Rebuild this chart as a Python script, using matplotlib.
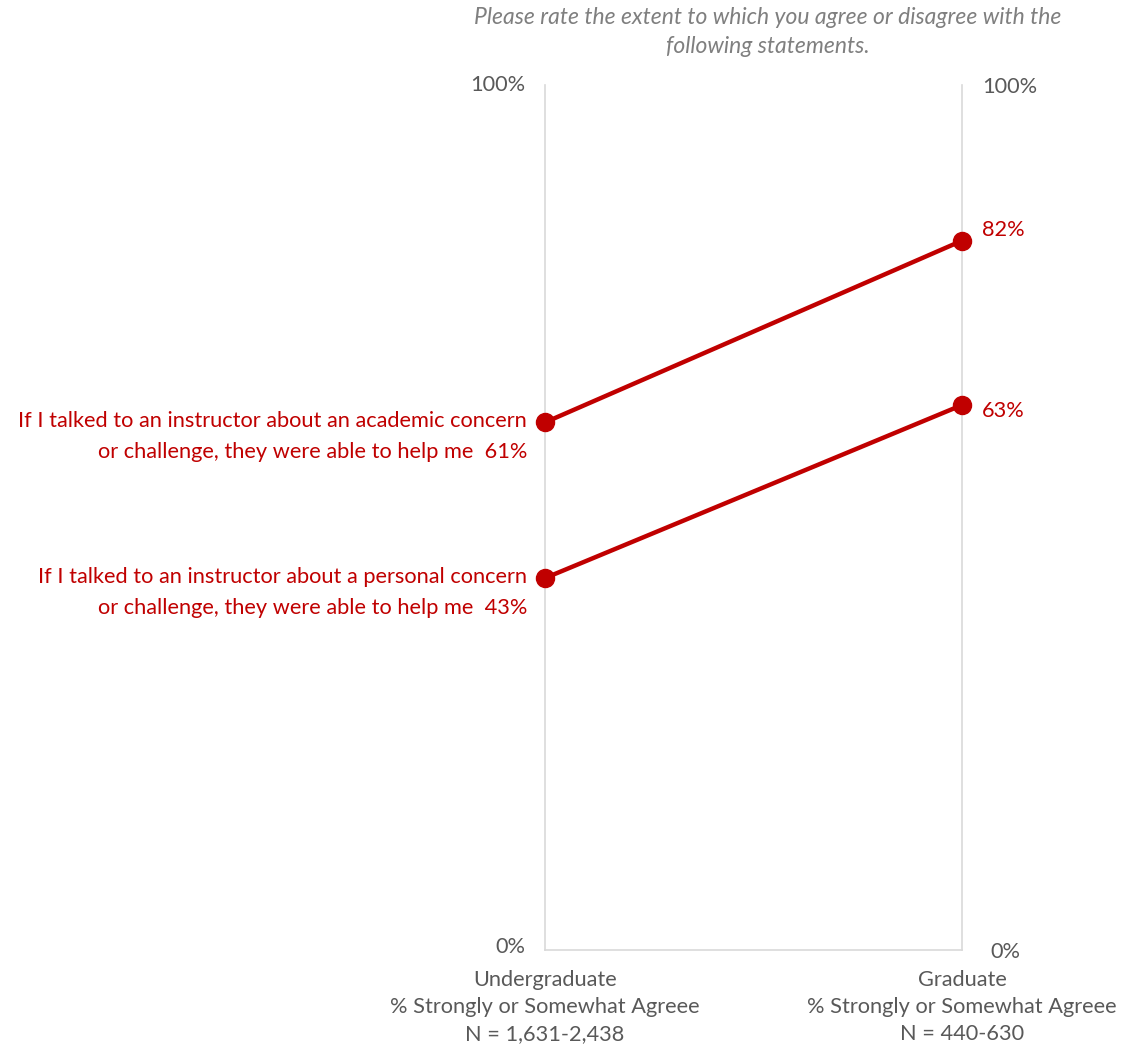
import matplotlib.pyplot as plt
from matplotlib.transforms import offset_copy

plt.rcParams['font.family'] = ['Lato', 'DejaVu Sans']

groups = ["Undergraduate\n% Strongly or Somewhat Agreee\nN = 1,631-2,438",
          "Graduate\n% Strongly or Somewhat Agreee\nN = 440-630"]
statements = ["If I talked to an instructor about an academic concern\nor challenge, they were able to help me",
              "If I talked to an instructor about a personal concern\nor challenge, they were able to help me"]
undergrad = [61, 43]
graduate = [82, 63]
title = "Please rate the extent to which you agree or disagree with the\nfollowing statements."

red = "#C00000"
gray = "#595959"
fs = 15.7

fig = plt.figure(figsize=(11.36, 10.46), dpi=100)
ax = fig.add_axes([0.4798, 0.0918, 0.367, 0.8269])
ax.set_xlim(0, 1)
ax.set_ylim(0, 100)
ax.axis("off")

# vertical axes and bottom line
for x in [0, 1]:
    ax.plot([x, x], [0, 100], color="#d9d9d9", lw=1.2, zorder=1, clip_on=False)
ax.plot([0, 1], [0, 0], color="#d9d9d9", lw=1.2, zorder=1, clip_on=False)

for i, s in enumerate(statements):
    ax.plot([0, 1], [undergrad[i], graduate[i]], color=red, lw=3.2, marker="o",
            markersize=13, zorder=3, clip_on=False)
    lines = s.split("\n")
    tr = offset_copy(ax.transData, fig=fig, x=-18, y=1, units="dots")
    ax.text(0, undergrad[i], lines[0], transform=tr, ha="right", va="center",
            color=red, fontsize=fs)
    tr2 = offset_copy(ax.transData, fig=fig, x=-18, y=-30, units="dots")
    ax.text(0, undergrad[i], lines[1] + "  " + f"{undergrad[i]}%", transform=tr2,
            ha="right", va="center", color=red, fontsize=fs)

# graduate value labels
offsets = [11, -6]
for i in range(len(statements)):
    tr = offset_copy(ax.transData, fig=fig, x=20, y=offsets[i], units="dots")
    ax.text(1, graduate[i], f"{graduate[i]}%", transform=tr, ha="left", va="center",
            color=red, fontsize=fs)

# axis end labels
for x, dx, ha, dy0, dy100 in [(0, -20, "right", 3, 0), (1, 20, "left", -2, -2)]:
    tr = offset_copy(ax.transData, fig=fig, x=dx, y=dy100, units="dots")
    ax.text(x, 100, "100%", transform=tr, ha=ha, va="center", color=gray, fontsize=fs)
    tr = offset_copy(ax.transData, fig=fig, x=dx + (8 if x == 1 else 0), y=dy0, units="dots")
    ax.text(x, 0, "0%", transform=tr, ha=ha, va="center", color=gray, fontsize=fs)

for x, g in zip([0, 1], groups):
    tr = offset_copy(ax.transData, fig=fig, x=0, y=-20, units="dots")
    ax.text(x, 0, g, transform=tr, ha="center", va="top", color=gray, fontsize=fs,
            linespacing=1.45)

fig.text(0.676, 0.993, title, ha="center", va="top", color="#7f7f7f",
         fontsize=16.5, style="italic", linespacing=1.45)

fig.savefig("out.png", dpi=100)
